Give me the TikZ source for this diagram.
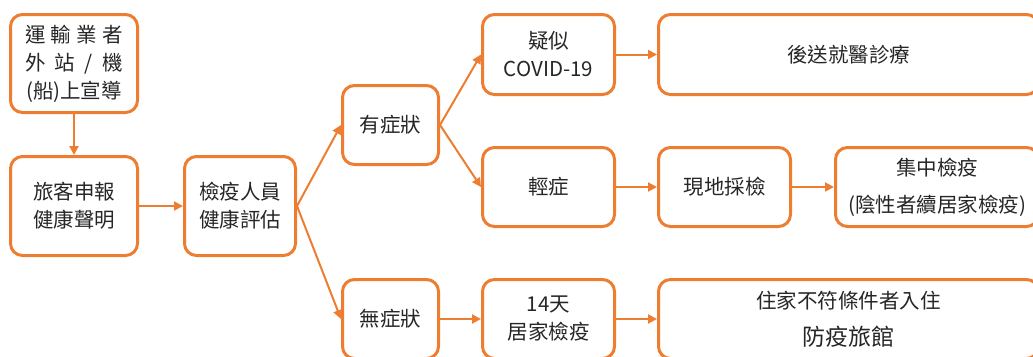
\documentclass[tikz,border=0pt]{standalone}
\usepackage{fontspec}
\setmainfont{Noto Sans CJK TC}
\usetikzlibrary{arrows.meta}

\definecolor{flowor}{HTML}{ED7D31}

\tikzset{
	box/.style={rectangle, draw=flowor, line width=3pt, rounded corners=12pt, fill=white,
		align=center, inner sep=0pt, text=black!85,
		font=\fontsize{20.5}{28}\selectfont},
	wide/.style={font=\fontsize{20.5}{37}\selectfont},
	flow/.style={draw=flowor, line width=2pt, -{Triangle[length=9pt,width=9pt]}}
}

\begin{document}
\begin{tikzpicture}[x=1pt, y=-1pt]
		\clip (0,0) rectangle (1033,356);
		
		\node[box,minimum width=127pt,minimum height=98pt] (pre) at (74,63.5)
			{\makebox[98pt][s]{運\hfill 輸\hfill 業\hfill 者}\\ \makebox[98pt][s]{外\hfill 站\hfill /\hfill 機}\\ (船)上宣導};
		\node[box,minimum width=127pt,minimum height=99pt] (dec) at (74,206) {旅客申報\\健康聲明};
		\node[box,minimum width=111pt,minimum height=99pt] (eval) at (240,206) {檢疫人員\\健康評估};
		
		\node[box,minimum width=96pt,minimum height=79pt] (sym) at (390.5,125) {有症狀};
		\node[box,minimum width=96pt,minimum height=79pt] (asym) at (390.5,319) {無症狀};
		
		\node[box,minimum width=132pt,minimum height=80pt] (susp) at (548.5,54.5) {疑似\\COVID-19};
		\node[box,minimum width=132pt,minimum height=79pt] (mild) at (548.5,187) {輕症};
		\node[box,minimum width=132pt,minimum height=79pt] (home) at (548.5,319) {14天\\居家檢疫};
		
		\node[box,minimum width=380pt,minimum height=80pt] (hosp) at (848.5,54.5) {後送就醫診療};
		\node[box,minimum width=132pt,minimum height=79pt] (test) at (724.5,187) {現地採檢};
		\node[box,wide,minimum width=203pt,minimum height=79pt] (central) at (937,187) {集中檢疫\\(陰性者續居家檢疫)};
		\node[box,wide,minimum width=380pt,minimum height=79pt] (hotel) at (848.5,319)
			{住家不符條件者入住\\{\fontsize{23}{37}\selectfont 防疫旅館}};
		
		\draw[flow] (pre) -- (dec);
		\draw[flow] (dec) -- (eval);
		\draw[flow] (eval.east) -- (sym.west);
		\draw[flow] (eval.east) -- (asym.west);
		
		\draw[flow] (sym.east) -- (susp.west);
		\draw[flow] (sym.east) -- (mild.west);
		\draw[flow] (asym) -- (home);
		
		\draw[flow] (susp) -- (hosp);
		\draw[flow] (mild) -- (test);
		\draw[flow] (test) -- (central);
		\draw[flow] (home) -- (hotel);
		
	\end{tikzpicture}
\end{document}
